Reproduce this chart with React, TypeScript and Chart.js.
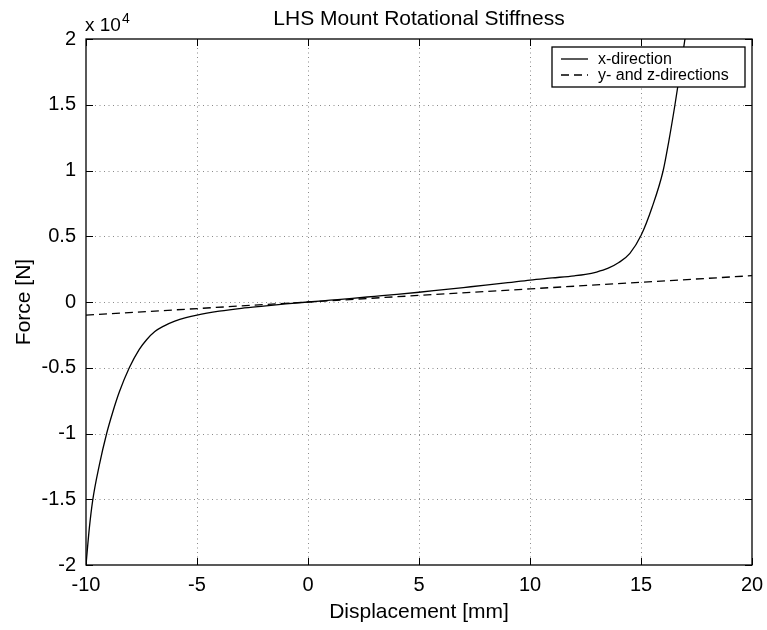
import React, { useEffect, useRef } from "react";
import { Chart, registerables } from "chart.js";

Chart.register(...registerables);

const TITLE = "LHS Mount Rotational Stiffness";
const X_LABEL = "Displacement [mm]";
const Y_LABEL = "Force [N]";
const Y_EXPONENT = "4";

const SERIES_LABELS = ["x-direction", "y- and z-directions"];

// x-direction (solid)
const xSolid = [
  -10, -9.85, -9.7, -9.4, -9.07, -8.8, -8.5, -8.05, -7.6, -7.27, -6.9, -6.52, -6, -5.5, -5,
  -4, -3, -2, -1, 0, 1, 2, 3, 4, 5, 6, 7, 8, 9, 10, 11, 12, 12.5, 13, 13.5, 14, 14.5, 15,
  15.5, 16, 16.25, 16.53, 16.75, 16.98,
];
const ySolid = [
  -20000, -17200, -15100, -12400, -10000, -8400, -6850, -5000, -3600, -2870, -2250, -1850,
  -1460, -1190, -990, -700, -480, -310, -150, 0, 140, 280, 430, 580, 740, 920, 1100, 1280,
  1470, 1670, 1830, 1990, 2100, 2280, 2550, 3000, 3700, 5050, 7200, 10000, 12200, 15000,
  17400, 20000,
];

// y- and z-directions (dashed)
const xDashed = [-10, 0, 10, 20];
const yDashed = [-1000, 0, 1000, 2000];

const X_MIN = -10, X_MAX = 20, X_STEP = 5;
const Y_MIN = -20000, Y_MAX = 20000, Y_STEP = 5000, Y_SCALE = 10000;

const FONT = "'Liberation Sans', Arial, Helvetica, sans-serif";

const matlabPlugin = {
  id: "matlabDecor",
  beforeDatasetsDraw(chart: any) {
    const { ctx, chartArea } = chart;
    const { left, right, top, bottom } = chartArea;
    const xs = chart.scales.x;
    const ys = chart.scales.y;
    ctx.save();
    ctx.strokeStyle = "#8a8a8a";
    ctx.lineWidth = 1;
    ctx.setLineDash([1, 3.5]);
    xs.ticks.forEach((t: any) => {
      if (t.value <= X_MIN || t.value >= X_MAX) return;
      const px = Math.round(xs.getPixelForValue(t.value)) + 0.5;
      ctx.beginPath();
      ctx.moveTo(px, top);
      ctx.lineTo(px, bottom);
      ctx.stroke();
    });
    ys.ticks.forEach((t: any) => {
      if (t.value <= Y_MIN || t.value >= Y_MAX) return;
      const py = Math.round(ys.getPixelForValue(t.value)) + 0.5;
      ctx.beginPath();
      ctx.moveTo(left, py);
      ctx.lineTo(right, py);
      ctx.stroke();
    });
    ctx.restore();
  },
  afterDraw(chart: any) {
    const { ctx, chartArea } = chart;
    const { left, right, top, bottom } = chartArea;
    const xs = chart.scales.x;
    const ys = chart.scales.y;
    ctx.save();
    // box
    ctx.strokeStyle = "#000";
    ctx.lineWidth = 1.3;
    ctx.setLineDash([]);
    ctx.strokeRect(left, top, right - left, bottom - top);
    // inward ticks
    const tl = 7;
    ctx.lineWidth = 1;
    xs.ticks.forEach((t: any) => {
      const px = Math.round(xs.getPixelForValue(t.value)) + 0.5;
      ctx.beginPath();
      ctx.moveTo(px, bottom);
      ctx.lineTo(px, bottom - tl);
      ctx.moveTo(px, top);
      ctx.lineTo(px, top + tl);
      ctx.stroke();
    });
    ys.ticks.forEach((t: any) => {
      const py = Math.round(ys.getPixelForValue(t.value)) + 0.5;
      ctx.beginPath();
      ctx.moveTo(left, py);
      ctx.lineTo(left + tl, py);
      ctx.moveTo(right, py);
      ctx.lineTo(right - tl, py);
      ctx.stroke();
    });
    // title
    ctx.fillStyle = "#000";
    ctx.font = `21px ${FONT}`;
    ctx.textAlign = "center";
    ctx.textBaseline = "alphabetic";
    ctx.fillText(TITLE, (left + right) / 2, top - 14);
    // exponent
    ctx.textAlign = "left";
    ctx.font = `19px ${FONT}`;
    const base = "x 10";
    ctx.fillText(base, left - 1, top - 8);
    const bw = ctx.measureText(base).width;
    ctx.font = `14px ${FONT}`;
    ctx.fillText(Y_EXPONENT, left + bw, top - 16);
    // legend
    const lx = 552, ly = 47, lw = 193, lh = 40;
    ctx.fillStyle = "#fff";
    ctx.fillRect(lx, ly, lw, lh);
    ctx.strokeStyle = "#000";
    ctx.lineWidth = 1.3;
    ctx.strokeRect(lx, ly, lw, lh);
    ctx.font = `16px ${FONT}`;
    ctx.textBaseline = "middle";
    chart.data.datasets.forEach((ds: any, i: number) => {
      const yy = ly + 12 + i * 16;
      ctx.strokeStyle = ds.borderColor;
      ctx.lineWidth = ds.borderWidth;
      ctx.setLineDash(ds.borderDash || []);
      ctx.beginPath();
      ctx.moveTo(lx + 9, yy);
      ctx.lineTo(lx + 36, yy);
      ctx.stroke();
      ctx.setLineDash([]);
      ctx.fillStyle = "#000";
      ctx.fillText(ds.label, lx + 46, yy + 0.5);
    });
    ctx.restore();
  },
};

export default function App() {
  const ref = useRef<HTMLCanvasElement | null>(null);
  useEffect(() => {
    document.body.style.margin = "0";
    const canvas = ref.current;
    if (!canvas) return;
    const chart = new Chart(canvas, {
      type: "line",
      data: {
        datasets: [
          {
            label: SERIES_LABELS[0],
            data: xSolid.map((x, i) => ({ x, y: ySolid[i] })),
            borderColor: "#000",
            borderWidth: 1.3,
            pointRadius: 0,
            cubicInterpolationMode: "monotone",
            fill: false,
          },
          {
            label: SERIES_LABELS[1],
            data: xDashed.map((x, i) => ({ x, y: yDashed[i] })),
            borderColor: "#000",
            borderWidth: 1.3,
            borderDash: [8, 5],
            pointRadius: 0,
            fill: false,
          },
        ],
      },
      options: {
        animation: false,
        responsive: false,
        maintainAspectRatio: false,
        devicePixelRatio: 1,
        layout: { padding: { top: 39, right: 15, left: 0, bottom: 0 } },
        plugins: {
          legend: { display: false },
          tooltip: { enabled: false },
          title: { display: false },
        },
        scales: {
          x: {
            type: "linear",
            min: X_MIN,
            max: X_MAX,
            ticks: {
              stepSize: X_STEP,
              color: "#000",
              font: { family: FONT, size: 20 },
              padding: 8,
              maxRotation: 0,
            },
            grid: { display: false, drawTicks: false },
            border: { display: false },
            title: {
              display: true,
              text: X_LABEL,
              color: "#000",
              font: { family: FONT, size: 21 },
              padding: { top: 0, bottom: 5 },
            },
            afterFit(scale: any) {
              scale.height = 65;
              scale.paddingLeft = 0;
              scale.paddingRight = 0;
            },
          },
          y: {
            type: "linear",
            min: Y_MIN,
            max: Y_MAX,
            ticks: {
              stepSize: Y_STEP,
              color: "#000",
              font: { family: FONT, size: 20 },
              padding: 10,
              callback: (v: any) => String(Number(v) / Y_SCALE),
            },
            grid: { display: false, drawTicks: false },
            border: { display: false },
            title: {
              display: true,
              text: Y_LABEL,
              color: "#000",
              font: { family: FONT, size: 21 },
              padding: { top: 12, bottom: 0 },
            },
            afterFit(scale: any) {
              scale.width = 86;
              scale.paddingTop = 0;
              scale.paddingBottom = 0;
            },
          },
        },
      },
      plugins: [matlabPlugin],
    } as any);
    return () => chart.destroy();
  }, []);
  return <canvas ref={ref} width={767} height={630} style={{ display: "block" }} />;
}
